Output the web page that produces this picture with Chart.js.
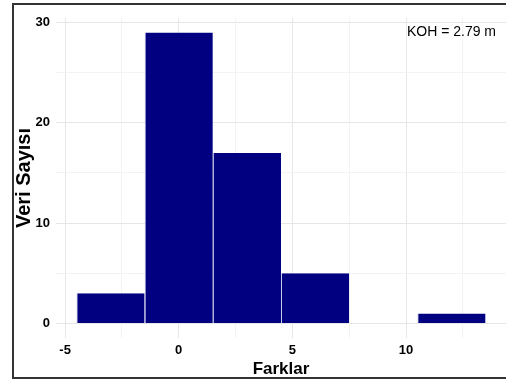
<!DOCTYPE html>
<html>
<head>
<meta charset="utf-8">
<script src="https://cdn.jsdelivr.net/npm/chart.js@4"></script>
<style>
  html, body { margin: 0; padding: 0; background: #fff; }
  #wrap { position: relative; width: 506px; height: 383px; }
</style>
</head>
<body>
<div id="wrap"><canvas id="hist"></canvas></div>
<script>
// histogram bins (width 3) and their counts
const binCenters = [-3, 0, 3, 6, 9, 12];
const counts = [3, 29, 17, 5, 0, 1];
const binWidth = 3;
const xTicks = [-5, -2.5, 0, 2.5, 5, 7.5, 10, 12.5];
const yTicks = [0, 5, 10, 15, 20, 25, 30];
const annotationText = "KOH = 2.79 m";

const FONT = "'Liberation Sans', Arial, sans-serif";

const framePlugin = {
  id: "frame",
  afterDraw(chart) {
    const ctx = chart.ctx;
    const x = chart.scales.x, y = chart.scales.y;
    ctx.save();
    // KOH label
    ctx.fillStyle = "#000";
    ctx.font = "14px " + FONT;
    ctx.textAlign = "center";
    ctx.textBaseline = "middle";
    ctx.fillText(annotationText, x.getPixelForValue(12), y.getPixelForValue(29));
    // outer frame
    ctx.strokeStyle = "#333";
    ctx.lineWidth = 2;
    ctx.strokeRect(13, 4, 510, 374);
    ctx.restore();
  }
};

new Chart(document.getElementById("hist"), {
  type: "bar",
  data: {
    datasets: [{
      data: binCenters.map((c, i) => ({ x: c, y: counts[i] })),
      backgroundColor: "#000080",
      borderColor: "#c8c8e8",
      borderWidth: { left: 1, right: 0, top: 0, bottom: 0 },
      // bar width is measured against the smallest gap (the 2.5 grid step), so widen to a full bin
      barPercentage: binWidth / 2.5,
      categoryPercentage: 1
    }]
  },
  options: {
    responsive: true,
    maintainAspectRatio: false,
    animation: false,
    layout: { padding: { top: 18, left: 0, right: 0, bottom: 0 } },
    plugins: {
      legend: { display: false },
      tooltip: { enabled: false }
    },
    scales: {
      x: {
        type: "linear",
        min: -5.4,
        max: 14.4,
        offset: false,
        afterBuildTicks: s => { s.ticks = xTicks.map(v => ({ value: v })); },
        afterFit: s => { s.height = 45; },
        grid: {
          offset: false,
          drawTicks: false,
          color: c => (c.tick && c.tick.value % 5 === 0) ? "#e6e6e6" : "#f3f3f3"
        },
        border: { display: false },
        ticks: {
          padding: 5,
          color: "#000",
          font: { family: FONT, size: 13, weight: "bold" },
          callback: v => (v % 5 === 0 ? v : "")
        },
        title: {
          display: true,
          text: "Farklar",
          color: "#000",
          font: { family: FONT, size: 17, weight: "bold" },
          padding: { top: 3, bottom: 3 }
        }
      },
      y: {
        min: -1.45,
        max: 30.45,
        afterBuildTicks: s => { s.ticks = yTicks.map(v => ({ value: v })); },
        afterFit: s => { s.width = 56; },
        grid: {
          drawTicks: false,
          color: c => (c.tick && c.tick.value % 10 === 0) ? "#e6e6e6" : "#f3f3f3"
        },
        border: { display: false },
        ticks: {
          padding: 6,
          color: "#000",
          font: { family: FONT, size: 13, weight: "bold" },
          callback: v => (v % 10 === 0 ? v : "")
        },
        title: {
          display: true,
          text: "Veri Sayısı",
          color: "#000",
          font: { family: FONT, size: 20, weight: "bold" },
          padding: { top: 12, bottom: 4 }
        }
      }
    }
  },
  plugins: [framePlugin]
});
</script>
</body>
</html>
